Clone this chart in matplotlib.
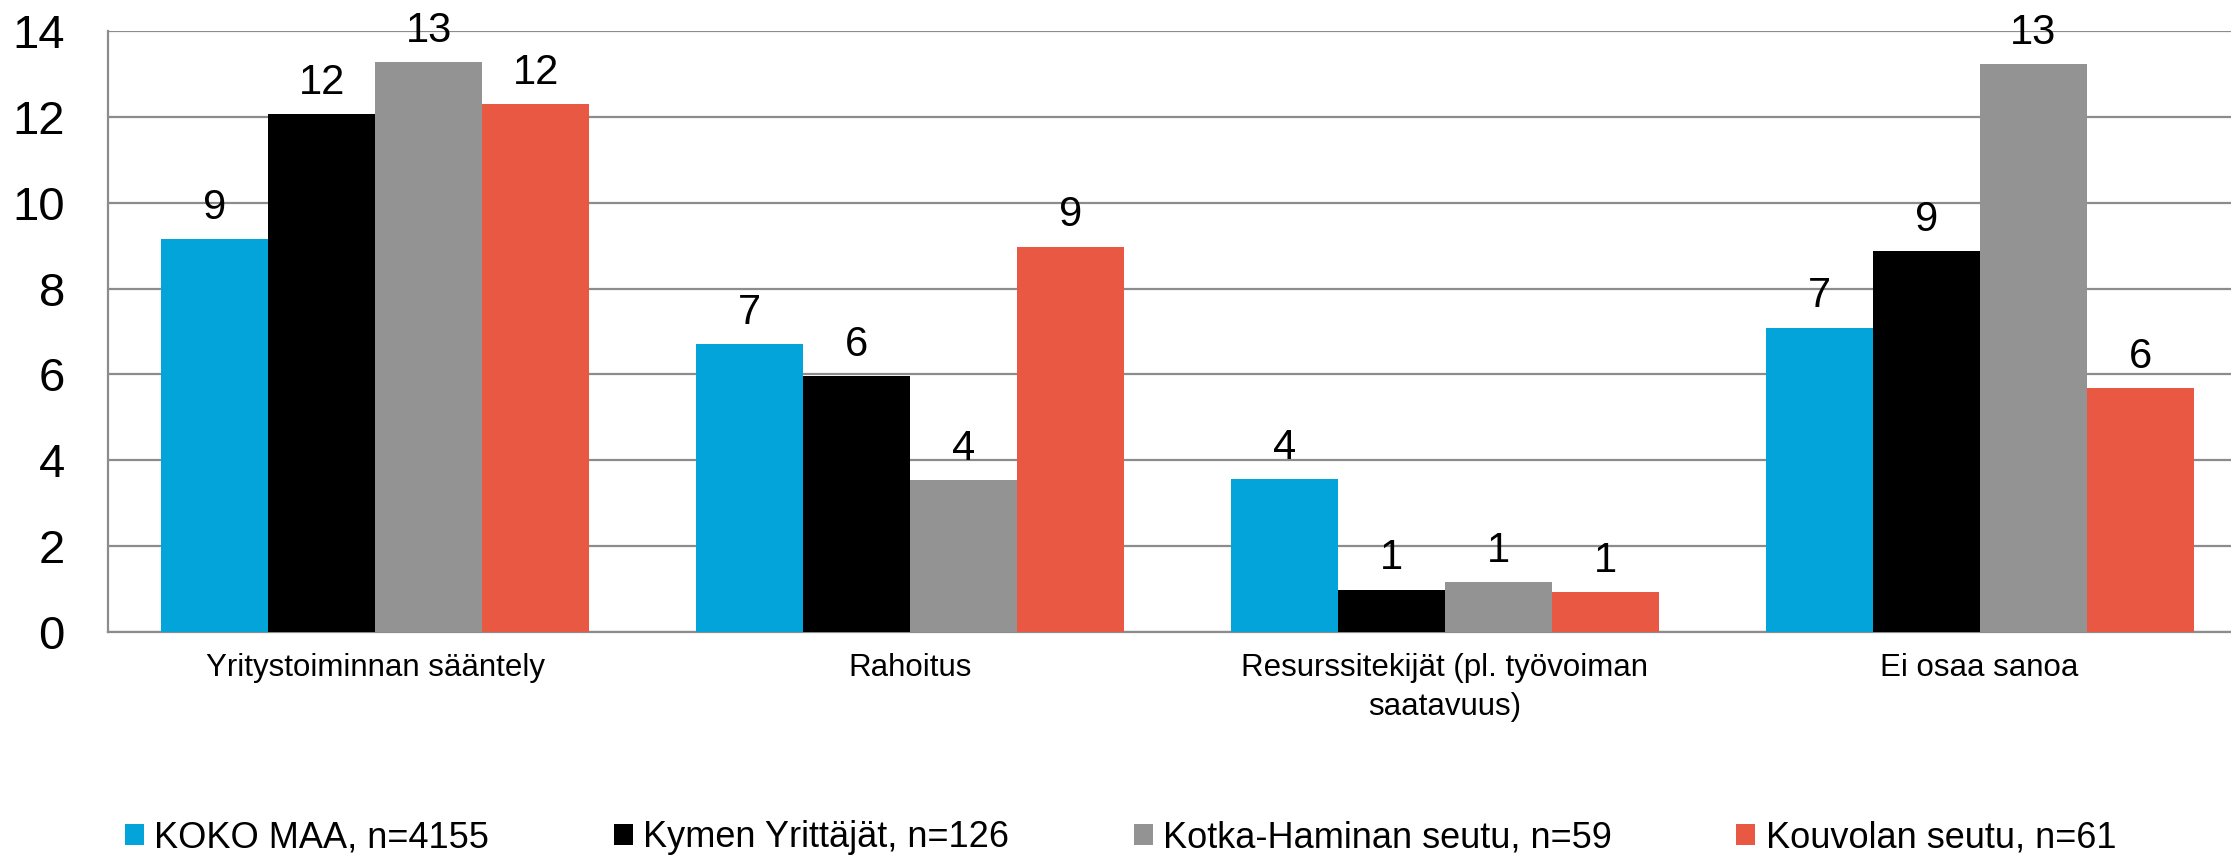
import numpy as np
import matplotlib
matplotlib.use('Agg')
import matplotlib.pyplot as plt

plt.rcParams['font.family'] = ['Liberation Sans', 'DejaVu Sans']

# --------------------------- Chart data ---------------------------- #
categories = ['Yritystoiminnan sääntely', 'Rahoitus',
              'Resurssitekijät (pl. työvoiman\nsaatavuus)', 'Ei osaa sanoa']
series_names = ['KOKO MAA, n=4155', 'Kymen Yrittäjät, n=126',
                'Kotka-Haminan seutu, n=59', 'Kouvolan seutu, n=61']
koko_maa = [9.16, 6.70, 3.56, 7.09]
kymen = [12.07, 5.97, 0.99, 8.87]
kotka = [13.28, 3.53, 1.17, 13.23]
kouvola = [12.30, 8.98, 0.93, 5.68]
colors = ['#02A4D9', '#000000', '#939393', '#E95842']
y_ticks = [0, 2, 4, 6, 8, 10, 12, 14]

# --------------------------- Figure setup --------------------------- #
W, H = 2231, 856
fig = plt.figure(figsize=(W / 100, H / 100), dpi=100)
# plot area runs a little past the right edge (cropped like the original)
ax = fig.add_axes([108 / W, 1 - 632 / H, (2247 - 108) / W, 601 / H])

x = np.arange(len(categories))
width = 0.2
all_series = [koko_maa, kymen, kotka, kouvola]

# Draw grouped bars and value labels
for i, (vals, name, col) in enumerate(zip(all_series, series_names, colors)):
    pos = x + (i - 1.5) * width
    ax.bar(pos, vals, width, color=col, label=name, zorder=3)
    for px, v in zip(pos, vals):
        ax.annotate(f'{v:.0f}', (px, v), xytext=(0, 14.5),
                    textcoords='offset points', ha='center', va='baseline',
                    fontsize=30, zorder=4)

# Axes and grid
ax.set_xlim(-0.5, 3.5)
ax.set_ylim(0, 14)
ax.set_yticks(y_ticks)
ax.set_xticks(x)
ax.set_xticklabels(categories, fontsize=22.5, linespacing=1.4)
ax.tick_params(axis='y', length=0, labelsize=34, pad=31)
ax.tick_params(axis='x', length=0, pad=15)
ax.yaxis.grid(True, color='#8c8c8c', lw=1.6, zorder=0)
ax.set_axisbelow(True)
for s in ['top', 'right']:
    ax.spines[s].set_visible(False)
for s in ['left', 'bottom']:
    ax.spines[s].set_color('#8c8c8c')
    ax.spines[s].set_linewidth(1.6)

# Legend at the bottom
fig.legend(loc='center left', bbox_to_anchor=(125 / W, 1 - 837.5 / H),
           ncol=4, frameon=False, fontsize=26, handlelength=0.53,
           handleheight=0.53, handletextpad=0.28, columnspacing=3.45,
           borderpad=0, borderaxespad=0)

plt.savefig('out.png', dpi=100)
